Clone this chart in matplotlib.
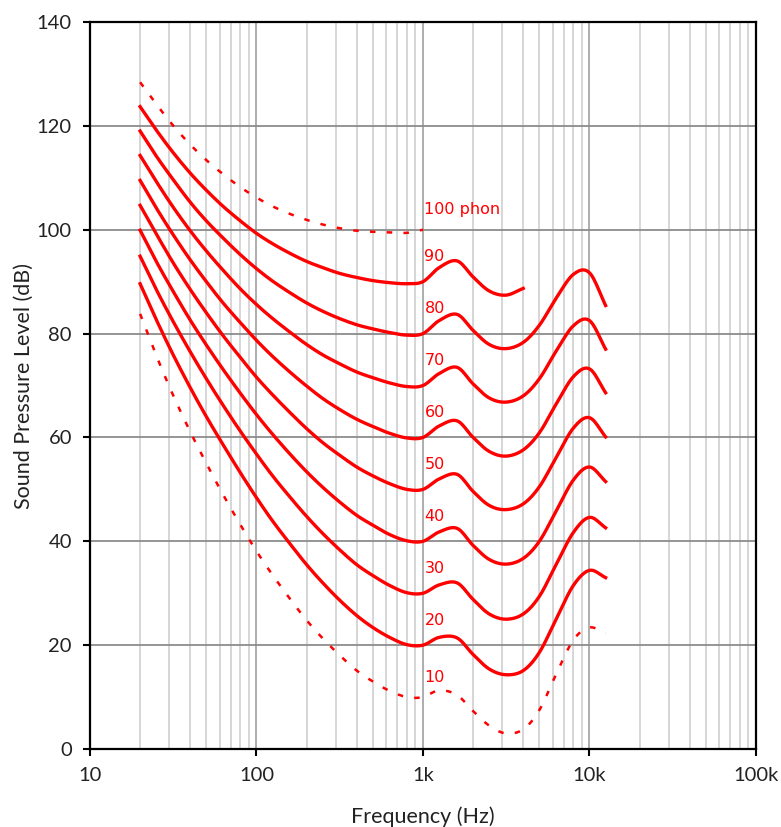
import numpy as np
import matplotlib
matplotlib.use('Agg')
import matplotlib.pyplot as plt
from matplotlib.ticker import FixedLocator, NullFormatter

# Frequencies (Hz)
freq = [20, 25, 31.5, 40, 50, 63, 80, 100, 125, 160, 200, 250, 315, 400, 500,
        630, 800, 1000, 1250, 1600, 2000, 2500, 3150, 4000, 5000, 6300, 8000,
        10000, 12500]

# Equal-loudness contours (dB SPL)
phon10 = [83.8, 75.8, 68.2, 61.1, 55.0, 49.0, 43.2, 38.1, 33.5, 28.8, 24.8, 21.3,
          18.1, 15.1, 13.0, 11.2, 10.0, 10.0, 11.3, 10.4, 7.3, 4.5, 3.0, 3.8,
          7.5, 14.4, 21.0, 23.4, 22.3]
phon20 = [89.6, 82.7, 76.0, 69.6, 64.0, 58.6, 53.2, 48.4, 43.9, 39.4, 35.5, 32.0,
          28.7, 25.7, 23.4, 21.5, 20.1, 20.0, 21.5, 21.4, 18.2, 15.4, 14.3, 15.1,
          18.6, 25.0, 31.5, 34.4, 33.0]
phon30 = [94.9, 88.5, 82.4, 76.5, 71.3, 66.2, 61.2, 56.8, 52.6, 48.4, 44.8, 41.5,
          38.4, 35.5, 33.4, 31.5, 30.1, 30.0, 31.6, 32.0, 28.8, 26.0, 25.0, 26.0,
          29.4, 35.5, 41.7, 44.6, 42.6]
phon40 = [99.9, 93.9, 88.2, 82.6, 77.8, 73.1, 68.5, 64.4, 60.6, 56.7, 53.4, 50.4,
          47.6, 45.0, 43.1, 41.3, 40.1, 40.0, 41.8, 42.5, 39.2, 36.5, 35.6, 36.7,
          40.0, 45.8, 51.8, 54.3, 51.5]
phon50 = [104.7, 99.2, 93.7, 88.5, 84.0, 79.6, 75.4, 71.6, 68.2, 64.7, 61.7, 59.0,
          56.6, 54.3, 52.6, 51.1, 50.0, 50.0, 52.0, 52.9, 49.6, 46.9, 46.1, 47.2,
          50.5, 56.1, 61.8, 63.8, 60.1]
phon60 = [109.5, 104.2, 99.1, 94.2, 90.0, 85.9, 82.1, 78.7, 75.6, 72.5, 69.9, 67.5,
          65.4, 63.5, 62.1, 60.8, 59.9, 60.0, 62.2, 63.2, 60.0, 57.3, 56.4, 57.6,
          60.9, 66.4, 71.7, 73.2, 68.6]
phon70 = [114.3, 109.3, 104.4, 99.8, 95.9, 92.2, 88.6, 85.6, 82.9, 80.2, 77.9, 75.9,
          74.2, 72.6, 71.5, 70.5, 69.8, 70.0, 72.3, 73.5, 70.3, 67.6, 66.8, 68.0,
          71.3, 76.6, 81.5, 82.5, 77.0]
phon80 = [119.0, 114.2, 109.7, 105.3, 101.7, 98.4, 95.2, 92.5, 90.1, 87.8, 85.9, 84.3,
          82.9, 81.7, 80.9, 80.2, 79.7, 80.0, 82.5, 83.7, 80.6, 77.9, 77.1, 78.3,
          81.6, 86.8, 91.4, 91.7, 85.4]
# 90 phon only up to 4 kHz, 100 phon only up to 1 kHz
phon90 = [123.7, 119.2, 114.9, 110.9, 107.6, 104.5, 101.7, 99.3, 97.3, 95.4, 93.9, 92.7,
          91.6, 90.8, 90.2, 89.8, 89.6, 90.0, 92.7, 94.0, 90.9, 88.2, 87.4, 88.7]
phon100 = [128.4, 124.2, 120.1, 116.4, 113.4, 110.7, 108.2, 106.2, 104.5, 103.0, 101.9,
           101.0, 100.3, 99.8, 99.6, 99.5, 99.4, 100.0]

levels = [10, 20, 30, 40, 50, 60, 70, 80, 90, 100]
curves = [phon10, phon20, phon30, phon40, phon50, phon60, phon70, phon80, phon90, phon100]
labels = ['10', '20', '30', '40', '50', '60', '70', '80', '90', '100 phon']

yticks = [0, 20, 40, 60, 80, 100, 120, 140]
xticks = [10, 100, 1000, 10000, 100000]
xticklabels = ['10', '100', '1k', '10k', '100k']

red = '#ff0000'


def smooth(f, v, n=12):
    # Catmull-Rom through the points, in log-frequency
    x = np.log10(f)
    y = np.asarray(v, dtype=float)
    xp = np.concatenate([[2 * x[0] - x[1]], x, [2 * x[-1] - x[-2]]])
    yp = np.concatenate([[2 * y[0] - y[1]], y, [2 * y[-1] - y[-2]]])
    xs, ys = [], []
    t = np.linspace(0, 1, n, endpoint=False)
    for i in range(1, len(xp) - 2):
        for arr, out in ((xp, xs), (yp, ys)):
            p0, p1, p2, p3 = arr[i - 1], arr[i], arr[i + 1], arr[i + 2]
            out.append(0.5 * (2 * p1 + (-p0 + p2) * t
                              + (2 * p0 - 5 * p1 + 4 * p2 - p3) * t ** 2
                              + (-p0 + 3 * p1 - 3 * p2 + p3) * t ** 3))
    xs.append([x[-1]])
    ys.append([y[-1]])
    return 10 ** np.concatenate(xs), np.concatenate(ys)


fig = plt.figure(figsize=(7.81, 8.27), dpi=100)
ax = fig.add_axes([0.1152, 0.0943, 0.8528, 0.8791])

ax.set_xscale('log')
ax.set_xlim(10, 100000)
ax.set_ylim(0, 140)

# grid lines
minor = [m * 10.0 ** d for d in range(1, 5) for m in range(2, 10)]
for f in minor:
    ax.axvline(f, color='#cfcfcf', lw=1.2, zorder=0)
for f in [100, 1000, 10000]:
    ax.axvline(f, color='#a0a0a0', lw=1.2, zorder=0)
for y in yticks[1:-1]:
    ax.axhline(y, color='#8c8c8c', lw=1.3, zorder=0)

# contours
for lev, vals in zip(levels, curves):
    fs, vs = smooth(freq[:len(vals)], vals)
    if lev in (10, 100):
        ax.plot(fs, vs, color=red, lw=1.8, dashes=(2.2, 4.5), zorder=3)
    else:
        ax.plot(fs, vs, color=red, lw=2.4, zorder=3, solid_joinstyle='round')

for lev, lab in zip(levels, labels):
    off = 3.8 if lev == 100 else 4.8
    if lev == 10:
        off = 3.7
    ax.text(1020, lev + off, lab, color=red, fontsize=11.5, ha='left', va='center',
            family='DejaVu Sans', zorder=4)

ax.xaxis.set_major_locator(FixedLocator(xticks))
ax.xaxis.set_minor_locator(FixedLocator([]))
ax.xaxis.set_minor_formatter(NullFormatter())
ax.set_xticks(xticks)
ax.set_xticklabels(xticklabels)
ax.set_yticks(yticks)

for s in ax.spines.values():
    s.set_color('black')
    s.set_linewidth(1.6)

ax.tick_params(axis='both', which='major', direction='out', length=5, width=1.5,
               labelsize=14.5, color='black')
ax.tick_params(axis='x', pad=8)
ax.tick_params(axis='y', pad=8)
for lbl in ax.get_xticklabels() + ax.get_yticklabels():
    lbl.set_family('Lato')
    lbl.set_color('#222222')

ax.set_xlabel('Frequency (Hz)', fontsize=15.5, family='Lato', color='#222222', labelpad=16)
ax.set_ylabel('Sound Pressure Level (dB)', fontsize=15.5, family='Lato', color='#222222',
              labelpad=2)

fig.savefig('out.png', dpi=100)
